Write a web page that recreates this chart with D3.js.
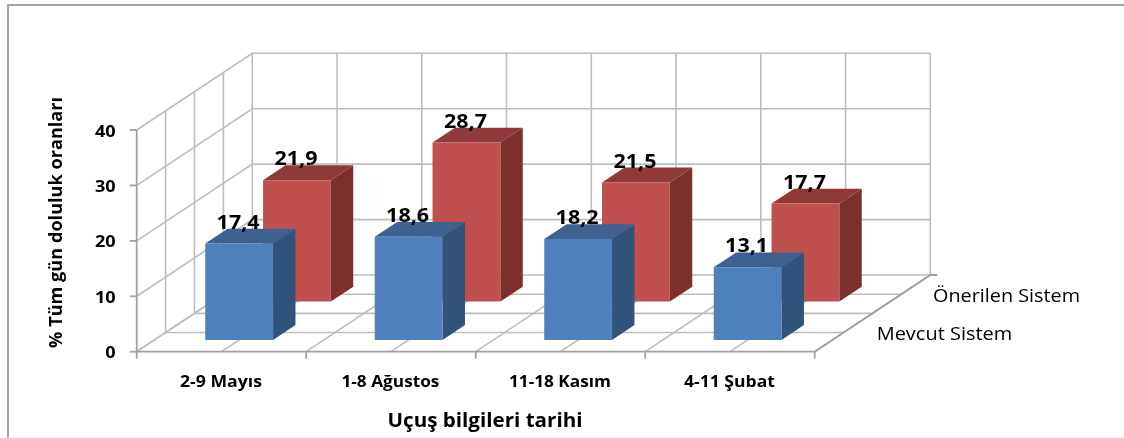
<!DOCTYPE html>
<html>
<head>
<meta charset="utf-8">
<script src="https://cdn.jsdelivr.net/npm/d3@7"></script>
<style>
html, body { margin: 0; padding: 0; background: #fff; }
svg { display: block; filter: blur(0.4px); }
text { font-family: "Open Sans", sans-serif; fill: #000; }
</style>
</head>
<body>
<div id="chart"></div>
<script>
// values
const categories = ["2-9 Mayıs", "1-8 Ağustos", "11-18 Kasım", "4-11 Şubat"];
const categoryWidths = [82, 98, 102, 91];
const seriesNames = ["Mevcut Sistem", "Önerilen Sistem"];
const mevcut = [17.4, 18.6, 18.2, 13.1];
const onerilen = [21.9, 28.7, 21.5, 17.7];
const yTicks = [0, 10, 20, 30, 40];
const yTitle = "% Tüm gün doluluk oranları";
const xTitle = "Uçuş bilgileri tarihi";

const width = 1124, height = 438;
const svg = d3.select("#chart").append("svg")
    .attr("width", width).attr("height", height);

// front plane scales, depth goes from 0 (front) to 1 (back wall)
const x = d3.scaleBand().domain(categories).range([136.7, 814.7])
    .paddingInner(0.6).paddingOuter(0.3);
const xEdge = d3.scaleLinear().domain([0, 4]).range([136.7, 814.7]);
const y = d3.scaleLinear().domain([0, 40]).range([351.7, 130]);
const depth = d3.scaleBand().domain(seriesNames).range([0, 1])
    .paddingInner(0.612).paddingOuter(0.306);
const depthX = 115.6, depthY = -76.7;

function pt(px, py, d) { return [px + d * depthX, py + d * depthY]; }
const line = d3.line();

// outer frame
svg.append("path")
    .attr("d", line([[8, height], [8, 5], [width, 5]]))
    .attr("fill", "none").attr("stroke", "#a3a3a3").attr("stroke-width", 2);
svg.append("line")
    .attr("x1", 8).attr("x2", width).attr("y1", 437).attr("y2", 437)
    .attr("stroke", "#eeeeee");

const grid = svg.append("g").attr("fill", "none")
    .attr("stroke", "#bdbdbd").attr("stroke-width", 1.6);

// back wall + left wall horizontals
yTicks.forEach(t => {
    grid.append("path").attr("d", line([
        pt(xEdge(0), y(t), 0), pt(xEdge(0), y(t), 1), pt(xEdge(4), y(t), 1)
    ]));
});
// back wall verticals and floor lines, every half category
d3.range(0, 4.5, 0.5).forEach(c => {
    grid.append("path").attr("d", line([
        pt(xEdge(c), y(40), 1), pt(xEdge(c), y(0), 1), pt(xEdge(c), y(0), 0)
    ]));
});
// left wall verticals and floor horizontals, every quarter depth
d3.range(0.25, 1, 0.25).forEach(d => {
    grid.append("path").attr("d", line([
        pt(xEdge(0), y(40), d), pt(xEdge(0), y(0), d), pt(xEdge(4), y(0), d)
    ]));
});

// axis lines and ticks
const axis = svg.append("g").attr("fill", "none")
    .attr("stroke", "#a0a0a0").attr("stroke-width", 1.8);
axis.append("path").attr("d", line([
    [xEdge(0), y(40)], [xEdge(0), y(0)], [xEdge(4), y(0)]
]));
yTicks.forEach(t => {
    axis.append("line").attr("x1", xEdge(0) - 7).attr("x2", xEdge(0))
        .attr("y1", y(t)).attr("y2", y(t));
});
d3.range(0, 5).forEach(c => {
    axis.append("line").attr("x1", xEdge(c)).attr("x2", xEdge(c))
        .attr("y1", y(0)).attr("y2", y(0) + 7);
});
axis.append("path").attr("d", line([pt(xEdge(4), y(0), 0), pt(xEdge(4), y(0), 1), [xEdge(4) + depthX + 7, y(0) + depthY]]));

// bars, back series first so the front one covers it
const seriesRows = [
    { name: seriesNames[1], values: onerilen, front: "#c0504d", top: "#8f3a38", side: "#7c302e" },
    { name: seriesNames[0], values: mevcut, front: "#4f81bd", top: "#3d6292", side: "#315379" }
];

seriesRows.forEach(s => {
    const g = svg.append("g");
    const d0 = depth(s.name), d1 = d0 + depth.bandwidth();
    const bars = g.selectAll("g").data(categories).enter().append("g");
    bars.append("path") // side
        .attr("fill", s.side)
        .attr("d", (c, i) => {
            const r = x(c) + x.bandwidth(), v = y(s.values[i]);
            return line([pt(r, y(0), d0), pt(r, y(0), d1), pt(r, v, d1), pt(r, v, d0)]) + "Z";
        });
    bars.append("path") // top
        .attr("fill", s.top)
        .attr("d", (c, i) => {
            const l = x(c), r = l + x.bandwidth(), v = y(s.values[i]);
            return line([pt(l, v, d0), pt(r, v, d0), pt(r, v, d1), pt(l, v, d1)]) + "Z";
        });
    bars.append("path") // front
        .attr("fill", s.front)
        .attr("d", (c, i) => {
            const l = x(c), r = l + x.bandwidth(), b = y(0), v = y(s.values[i]);
            return line([pt(l, b, d0), pt(r, b, d0), pt(r, v, d0), pt(l, v, d0)]) + "Z";
        });
    bars.append("text")
        .attr("text-anchor", "middle")
        .attr("font-size", 20).attr("font-weight", 700)
        .attr("textLength", 43).attr("lengthAdjust", "spacingAndGlyphs")
        .attr("x", (c, i) => pt(x(c) + x.bandwidth() / 2, 0, d0)[0] - 1)
        .attr("y", (c, i) => pt(0, y(s.values[i]), d1)[1])
        .text((c, i) => String(s.values[i]).replace(".", ","));
});

// tick labels
svg.append("g").selectAll("text").data(yTicks).enter().append("text")
    .attr("x", 115.7).attr("y", d => y(d) + 6.5)
    .attr("text-anchor", "end").attr("font-size", 15.4).attr("font-weight", 700)
    .attr("textLength", d => String(d).length * 10.35).attr("lengthAdjust", "spacingAndGlyphs")
    .text(d => d);

svg.append("g").selectAll("text").data(categories).enter().append("text")
    .attr("x", (c, i) => xEdge(i + 0.5) - 0.5).attr("y", 387.3)
    .attr("text-anchor", "middle").attr("font-size", 15.5).attr("font-weight", 700)
    .attr("textLength", (c, i) => categoryWidths[i]).attr("lengthAdjust", "spacingAndGlyphs")
    .text(d => d);

// depth axis labels
svg.append("text").attr("x", 933).attr("y", 301.7).attr("font-size", 18).attr("fill", "#222")
    .attr("textLength", 147).attr("lengthAdjust", "spacingAndGlyphs").text(seriesNames[1]);
svg.append("text").attr("x", 876.7).attr("y", 340).attr("font-size", 18).attr("fill", "#222")
    .attr("textLength", 135.6).attr("lengthAdjust", "spacingAndGlyphs").text(seriesNames[0]);

// titles
svg.append("text").attr("x", 485).attr("y", 426.7)
    .attr("text-anchor", "middle").attr("font-size", 20).attr("font-weight", 700)
    .attr("textLength", 195).attr("lengthAdjust", "spacingAndGlyphs")
    .text(xTitle);
svg.append("text")
    .attr("transform", "translate(62.3,222.4) rotate(-90)")
    .attr("text-anchor", "middle").attr("font-size", 18.5).attr("font-weight", 700)
    .attr("textLength", 251).attr("lengthAdjust", "spacingAndGlyphs")
    .text(yTitle);
</script>
</body>
</html>
